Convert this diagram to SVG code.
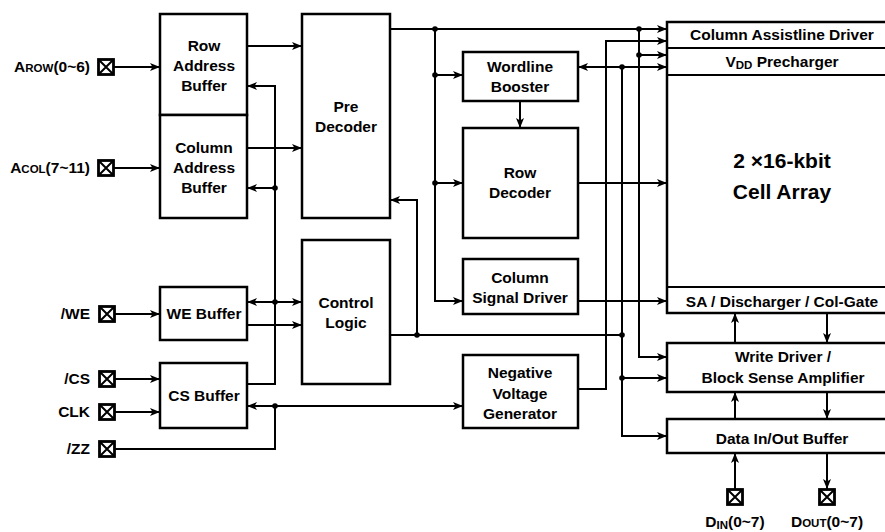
<svg xmlns="http://www.w3.org/2000/svg" width="885" height="532" viewBox="0 0 885 532">
<defs>
<style>
.box{fill:#fff;stroke:#000;stroke-width:2.5}
.ln{fill:none;stroke:#000;stroke-width:2}
.ar{marker-end:url(#ah)}
.ar2{marker-start:url(#ah);marker-end:url(#ah)}
.t{font-family:"Liberation Sans",Arial,sans-serif;font-weight:bold;font-size:15.5px;fill:#000;text-anchor:middle}
.lb{font-family:"Liberation Sans",Arial,sans-serif;font-weight:bold;font-size:15.5px;fill:#000;text-anchor:end}
.big{font-size:21px}
.pad{fill:#fff;stroke:#000;stroke-width:2.8}
</style>
<marker id="ah" viewBox="0 0 10 8" refX="10" refY="4" markerWidth="10" markerHeight="8" orient="auto-start-reverse" markerUnits="userSpaceOnUse">
<path d="M0,0 L10,4 L0,8 L2.5,4 z" fill="#000"/>
</marker>
<g id="padsym"><rect class="pad" x="-7.5" y="-7.5" width="15" height="15"/><path d="M-7.5,-7.5 L7.5,7.5 M7.5,-7.5 L-7.5,7.5" stroke="#000" stroke-width="2"/></g>
</defs>
<rect width="885" height="532" fill="#fff"/>

<g id="connectors">
<path class="ln ar" d="M114,67 H160"/>
<path class="ln ar" d="M114,168 H160"/>
<path class="ln ar" d="M247,46 H302"/>
<path class="ln ar" d="M247,148 H302"/>
<path class="ln ar" d="M247,384 H275 V86 H247"/>
<path class="ln ar" d="M275,188 H247"/>
<path class="ln ar" d="M115,314 H160"/>
<path class="ln ar2" d="M247,302 H302"/>
<path class="ln ar" d="M247,325 H302"/>
<path class="ln ar" d="M115,379 H160"/>
<path class="ln ar" d="M115,412 H160"/>
<path class="ln" d="M115,449 H275 V406"/>
<path class="ln ar2" d="M247,406 H463"/>
<path class="ln" d="M390,335 H622"/>
<path class="ln ar" d="M417,335 V200 H390"/>
<path class="ln ar" d="M390,29 H667"/>
<path class="ln ar" d="M435,29 V301 H463"/>
<path class="ln ar" d="M435,75 H463"/>
<path class="ln ar" d="M435,183 H463"/>
<path class="ln ar" d="M520,101 V128"/>
<path class="ln ar" d="M578,183 H667"/>
<path class="ln ar" d="M578,301 H667"/>
<path class="ln ar" d="M578,389 H606 V41 H667"/>
<path class="ln ar" d="M639,29 V357 H667"/>
<path class="ln ar" d="M639,55 H667"/>
<path class="ln ar2" d="M578,67 H667"/>
<path class="ln ar" d="M622,67 V436 H667"/>
<path class="ln ar" d="M622,378 H667"/>
<path class="ln ar" d="M735,343 V313"/>
<path class="ln ar" d="M735,419 V392"/>
<path class="ln ar" d="M735,489 V453"/>
<path class="ln ar" d="M827,313 V343"/>
<path class="ln ar" d="M827,392 V419"/>
<path class="ln ar" d="M827,453 V489"/>
<g fill="#000">
<circle cx="275" cy="188" r="2.8"/>
<circle cx="275" cy="302" r="2.8"/>
<circle cx="275" cy="406" r="2.8"/>
<circle cx="417" cy="335" r="2.8"/>
<circle cx="622" cy="335" r="2.8"/>
<circle cx="435" cy="29" r="2.8"/>
<circle cx="639" cy="29" r="2.8"/>
<circle cx="435" cy="75" r="2.8"/>
<circle cx="435" cy="183" r="2.8"/>
<circle cx="639" cy="55" r="2.8"/>
<circle cx="622" cy="67" r="2.8"/>
<circle cx="622" cy="378" r="2.8"/>
</g>
</g>

<g id="pads">
<use href="#padsym" x="106" y="67"/>
<use href="#padsym" x="106" y="168"/>
<use href="#padsym" x="107" y="314"/>
<use href="#padsym" x="107" y="379"/>
<use href="#padsym" x="107" y="412"/>
<use href="#padsym" x="107" y="449"/>
<use href="#padsym" x="735" y="497"/>
<use href="#padsym" x="827" y="497"/>
<text class="lb" x="90" y="72">A<tspan font-size="11.5">ROW</tspan>(0~6)</text>
<text class="lb" x="90" y="173">A<tspan font-size="11.5">COL</tspan>(7~11)</text>
<text class="lb" x="90" y="319">/WE</text>
<text class="lb" x="90" y="384">/CS</text>
<text class="lb" x="90" y="417">CLK</text>
<text class="lb" x="90" y="454">/ZZ</text>
<text class="t" x="735" y="527">D<tspan font-size="11.5" dy="2">IN</tspan><tspan dy="-2">(0~7)</tspan></text>
<text class="t" x="827" y="527">D<tspan font-size="11.5">OUT</tspan>(0~7)</text>
</g>

<g id="row-address-buffer">
<rect class="box" x="160" y="14" width="87" height="101"/>
<text class="t" x="204" y="51">Row</text>
<text class="t" x="204" y="71">Address</text>
<text class="t" x="204" y="91">Buffer</text>
</g>
<g id="column-address-buffer">
<rect class="box" x="160" y="115" width="87" height="103"/>
<text class="t" x="204" y="153">Column</text>
<text class="t" x="204" y="173">Address</text>
<text class="t" x="204" y="193">Buffer</text>
</g>
<g id="pre-decoder">
<rect class="box" x="302" y="14" width="88" height="204"/>
<text class="t" x="346" y="112">Pre</text>
<text class="t" x="346" y="132">Decoder</text>
</g>
<g id="control-logic">
<rect class="box" x="302" y="240" width="88" height="144"/>
<text class="t" x="346" y="308">Control</text>
<text class="t" x="346" y="328">Logic</text>
</g>
<g id="we-buffer">
<rect class="box" x="160" y="287" width="87" height="53"/>
<text class="t" x="204" y="319">WE Buffer</text>
</g>
<g id="cs-buffer">
<rect class="box" x="160" y="363" width="87" height="65"/>
<text class="t" x="204" y="401">CS Buffer</text>
</g>
<g id="wordline-booster">
<rect class="box" x="463" y="52" width="115" height="49"/>
<text class="t" x="520" y="72">Wordline</text>
<text class="t" x="520" y="92">Booster</text>
</g>
<g id="row-decoder">
<rect class="box" x="463" y="128" width="115" height="110"/>
<text class="t" x="520" y="178">Row</text>
<text class="t" x="520" y="198">Decoder</text>
</g>
<g id="column-signal-driver">
<rect class="box" x="463" y="259" width="115" height="55"/>
<text class="t" x="520" y="283">Column</text>
<text class="t" x="520" y="303">Signal Driver</text>
</g>
<g id="negative-voltage-generator">
<rect class="box" x="463" y="355" width="115" height="73"/>
<text class="t" x="520" y="378">Negative</text>
<text class="t" x="520" y="399">Voltage</text>
<text class="t" x="520" y="419">Generator</text>
</g>
<g id="cell-array">
<rect class="box" x="667" y="22" width="230" height="291"/>
<path class="ln" d="M667,48 H897 M667,75 H897 M667,287 H897" stroke-width="2.5"/>
<text class="t" x="782" y="40">Column Assistline Driver</text>
<text class="t" x="782" y="67">V<tspan font-size="11.5" dy="2">DD</tspan><tspan dy="-2"> Precharger</tspan></text>
<text class="t big" x="782" y="168">2 ×16-kbit</text>
<text class="t big" x="782" y="199">Cell Array</text>
<text class="t" x="782" y="307">SA / Discharger / Col-Gate</text>
</g>
<g id="write-driver">
<rect class="box" x="667" y="343" width="230" height="49"/>
<text class="t" x="783" y="362">Write Driver /</text>
<text class="t" x="783" y="383">Block Sense Amplifier</text>
</g>
<g id="data-io-buffer">
<rect class="box" x="667" y="419" width="230" height="34"/>
<text class="t" x="782" y="444">Data In/Out Buffer</text>
</g>
</svg>
